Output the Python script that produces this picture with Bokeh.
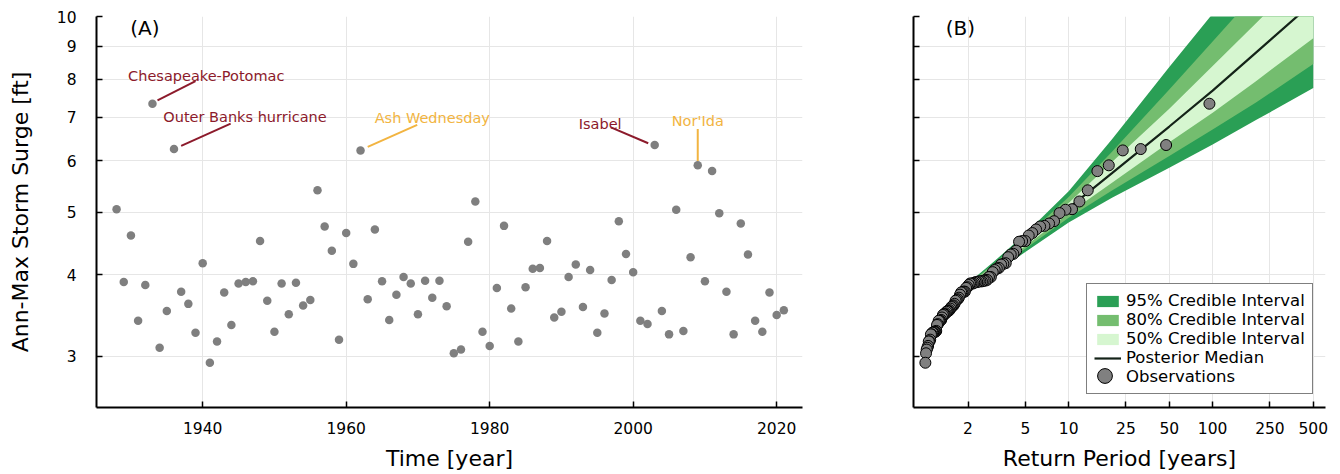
from bokeh.plotting import figure
from bokeh.layouts import row
from bokeh.models import FixedTicker, PrintfTickFormatter, Range1d, Legend, LegendItem
from bokeh.core.properties import value
from bokeh.embed import file_html
from bokeh.resources import INLINE

# ---------------- data ----------------
years = list(range(1928, 2022))
surge = [5.05, 3.90, 4.60, 3.40, 3.86, 7.34, 3.09, 3.52, 6.25, 3.77,
         3.61, 3.26, 4.17, 2.93, 3.16, 3.76, 3.35, 3.88, 3.90, 3.91,
         4.51, 3.65, 3.27, 3.88, 3.48, 3.89, 3.59, 3.66, 5.40, 4.75,
         4.36, 3.18, 4.64, 4.16, 6.22, 3.67, 4.70, 3.91, 3.41, 3.73,
         3.97, 3.88, 3.48, 3.92, 3.69, 3.92, 3.58, 3.03, 3.07, 4.50,
         5.19, 3.27, 3.11, 3.82, 4.76, 3.55, 3.16, 3.83, 4.09, 4.10,
         4.51, 3.44, 3.51, 3.97, 4.15, 3.57, 4.07, 3.26, 3.49, 3.93,
         4.84, 4.31, 4.04, 3.40, 3.36, 6.34, 3.52, 3.24, 5.04, 3.28,
         4.26, 5.90, 3.91, 5.78, 4.98, 3.77, 3.24, 4.80, 4.30, 3.40,
         3.27, 3.76, 3.47, 3.53]

event_names = ["Chesapeake-Potomac", "Outer Banks hurricane", "Ash Wednesday", "Isabel", "Nor'Ida"]
event_years = [1933, 1936, 1962, 2003, 2009]
event_kind = ["red", "red", "gold", "red", "gold"]

return_period = [1.26, 1.5, 2, 3, 5, 10, 20, 50, 100, 200, 500]
median = [3.28, 3.52, 3.83, 4.10, 4.48, 5.07, 5.74, 6.77, 7.69, 8.80, 10.52]
upper95 = [3.295, 3.544, 3.883, 4.186, 4.627, 5.383, 6.470, 8.36, 10.10, 12.30, 16.50]
upper80 = [3.290, 3.536, 3.866, 4.157, 4.574, 5.272, 6.193, 7.72, 9.15, 10.86, 13.70]
upper50 = [3.285, 3.528, 3.848, 4.128, 4.527, 5.164, 5.968, 7.21, 8.39, 9.76, 11.98]
lower50 = [3.275, 3.512, 3.812, 4.072, 4.434, 4.977, 5.545, 6.40, 7.111, 7.952, 9.26]
lower80 = [3.270, 3.504, 3.795, 4.044, 4.388, 4.898, 5.394, 6.10, 6.698, 7.370, 8.45]
lower95 = [3.265, 3.496, 3.777, 4.016, 4.338, 4.819, 5.259, 5.85, 6.352, 6.926, 7.76]

y_ticks = [3, 4, 5, 6, 7, 8, 9, 10]
x_ticks_a = [1940, 1960, 1980, 2000, 2020]
x_ticks_b = [2, 5, 10, 25, 50, 100, 250, 500]

# empirical return periods of the observations (Weibull plotting position)
n = len(surge)
obs_sorted = sorted(surge, reverse=True)
obs_rp = [(n + 1) / (i + 1) for i in range(n)]

# ---------------- style ----------------
FONT = "DejaVu Sans"
RED = "#8c1a2b"
GOLD = "#f2b441"
C95 = "#2a9f55"
C80 = "#74bd6f"
C50 = "#d6f6d0"
GRID = "#e6e6e6"


def style(p, xticks):
    p.outline_line_color = None
    p.xaxis.ticker = FixedTicker(ticks=xticks)
    p.xgrid.ticker = FixedTicker(ticks=xticks)
    p.yaxis.ticker = FixedTicker(ticks=y_ticks)
    p.ygrid.ticker = FixedTicker(ticks=y_ticks)
    for g in (p.xgrid, p.ygrid):
        g.grid_line_color = GRID
        g.grid_line_width = 1
    for ax in (p.xaxis, p.yaxis):
        ax.formatter = PrintfTickFormatter(format="%d")
        ax.axis_line_width = 2
        ax.axis_line_color = "black"
        ax.major_tick_in = 6
        ax.major_tick_out = 0
        ax.major_tick_line_width = 1.5
        ax.major_tick_line_color = "black"
        ax.minor_tick_in = 0
        ax.minor_tick_out = 0
        ax.major_label_text_font = FONT
        ax.major_label_text_font_size = "15.5px"
        ax.major_label_text_color = "black"
        ax.axis_label_text_font = FONT
        ax.axis_label_text_font_size = "22px"
        ax.axis_label_text_font_style = "normal"
        ax.axis_label_text_color = "black"
    p.xaxis.major_label_standoff = 14
    p.xaxis.axis_label_standoff = 9
    p.yaxis.major_label_standoff = 20
    p.yaxis.axis_label_standoff = 21


# ---------------- panel A ----------------
p1 = figure(width=860, height=474, x_range=Range1d(1925.2, 2023.6), y_range=Range1d(2.5, 10),
            y_axis_type="log", output_backend="svg", toolbar_location=None,
            min_border_left=96, min_border_right=58, min_border_top=16, min_border_bottom=67)
style(p1, x_ticks_a)
p1.xaxis.axis_label = "Time [year]"
p1.yaxis.axis_label = "Ann-Max Storm Surge [ft]"

p1.scatter(years, surge, size=8.5, fill_color="#7f7f7f", line_color=None)

line_start = [(1933.7, 7.43), (1937.0, 6.32), (1963.0, 6.30), (2002.1, 6.38), (2009.0, 5.99)]
line_end = [(1939.0, 7.95), (1943.9, 6.84), (1969.9, 6.81), (1996.9, 6.75), (2009.0, 6.71)]
text_pos = [(1940.5, 8.10), (1945.9, 7.00), (1972.0, 6.97), (1995.4, 6.83), (2009.0, 6.90)]
for name, kind, s, e, t in zip(event_names, event_kind, line_start, line_end, text_pos):
    col = RED if kind == "red" else GOLD
    p1.line([s[0], e[0]], [s[1], e[1]], line_color=col, line_width=2)
    p1.text(x=[t[0]], y=[t[1]], text=[name], text_color=col, text_font=value(FONT),
            text_font_size=value("14.5px"), text_align="center", text_baseline="middle")

p1.text(x=[1929.9], y=[9.61], text=["(A)"], text_color="black", text_font=value(FONT),
        text_font_size=value("20px"), text_align="left", text_baseline="middle")

# ---------------- panel B ----------------
p2 = figure(width=480, height=474, x_range=Range1d(0.836, 608), y_range=Range1d(2.5, 10),
            x_axis_type="log", y_axis_type="log", output_backend="svg", toolbar_location=None,
            min_border_left=53, min_border_right=15, min_border_top=16, min_border_bottom=67)
style(p2, x_ticks_b)
p2.xaxis.axis_label = "Return Period [years]"
p2.yaxis.major_label_overrides = {t: "" for t in y_ticks}

r95 = p2.varea(x=return_period, y1=lower95, y2=upper95, fill_color=C95)
r80 = p2.varea(x=return_period, y1=lower80, y2=upper80, fill_color=C80)
r50 = p2.varea(x=return_period, y1=lower50, y2=upper50, fill_color=C50)
rmed = p2.line(return_period, median, line_color="#142318", line_width=2.2)
robs = p2.scatter(obs_rp, obs_sorted, size=11, fill_color="#808080", line_color="black", line_width=1)

p2.text(x=[1.40], y=[9.61], text=["(B)"], text_color="black", text_font=value(FONT),
        text_font_size=value("20px"), text_align="left", text_baseline="middle")

legend = Legend(items=[
    LegendItem(label="95% Credible Interval", renderers=[r95]),
    LegendItem(label="80% Credible Interval", renderers=[r80]),
    LegendItem(label="50% Credible Interval", renderers=[r50]),
    LegendItem(label="Posterior Median", renderers=[rmed]),
    LegendItem(label="Observations", renderers=[robs]),
], location=(173, 13))
legend.label_text_font = FONT
legend.label_text_font_size = "16.5px"
legend.label_text_color = "black"
legend.glyph_width = 27
legend.glyph_height = 14
legend.label_height = 18
legend.spacing = 0
legend.padding = 7
legend.margin = 0
legend.label_standoff = 5
legend.border_line_color = "black"
legend.border_line_width = 1
legend.background_fill_color = "white"
legend.background_fill_alpha = 1
p2.add_layout(legend)

# larger observation marker drawn over the legend's small one
marker_legend = Legend(items=[LegendItem(label=" ", renderers=[robs])], location=(173, 13))
marker_legend.glyph_width = 37
marker_legend.glyph_height = 37
marker_legend.label_height = 37
marker_legend.padding = 0
marker_legend.margin = 0
marker_legend.spacing = 0
marker_legend.label_standoff = 0
marker_legend.label_text_font_size = "2px"
marker_legend.border_line_color = None
marker_legend.background_fill_alpha = 0
p2.add_layout(marker_legend)

layout = row(p1, p2)
open("out.html", "w").write(file_html(layout, INLINE))
